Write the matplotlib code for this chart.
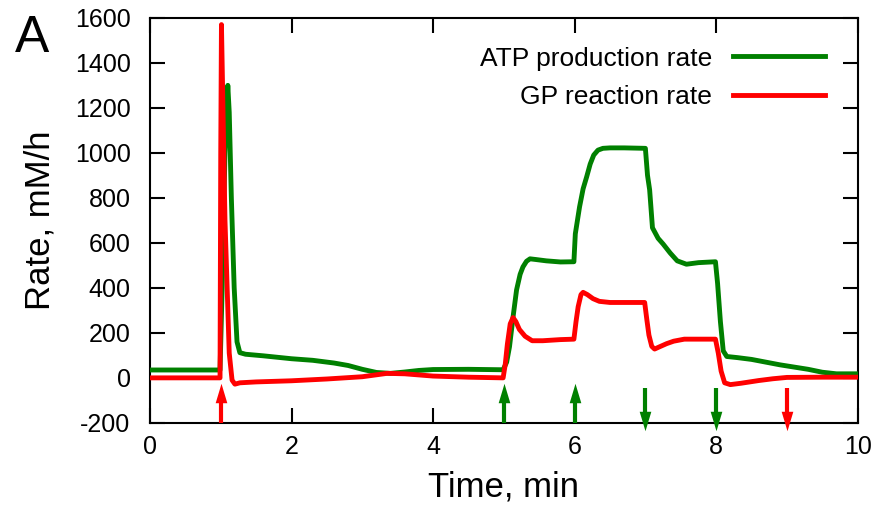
import matplotlib
matplotlib.use("Agg")
import matplotlib.pyplot as plt

plt.rcParams['font.family'] = ['Liberation Sans', 'DejaVu Sans']
plt.rcParams['axes.unicode_minus'] = False

# ATP production rate, mM/h
atp_t = [0, 0.99, 1.02, 1.06, 1.10, 1.12, 1.15, 1.19, 1.23, 1.27, 1.35, 1.6, 2.0, 2.3,
         2.6, 2.8, 3.0, 3.2, 3.4, 3.6, 3.8, 4.0, 4.5, 4.99, 5.04, 5.08, 5.13, 5.18, 5.23,
         5.27, 5.32, 5.37, 5.45, 5.6, 5.8, 5.99, 6.01, 6.07, 6.12, 6.17, 6.22, 6.27, 6.33,
         6.4, 6.5, 6.7, 7.0, 7.03, 7.06, 7.1, 7.18, 7.25, 7.35, 7.45, 7.58, 7.75, 7.99,
         8.02, 8.06, 8.1, 8.15, 8.3, 8.5, 8.7, 8.9, 9.1, 9.3, 9.5, 9.7, 10.0]
atp = [35, 35, 400, 1000, 1300, 1180, 800, 400, 160, 112, 105, 98, 85, 78,
       66, 55, 38, 24, 20, 26, 33, 37, 38, 36, 70, 138, 270, 391, 460,
       493, 518, 529, 526, 520, 515, 516, 640, 760, 840, 893, 950, 990, 1012,
       1020, 1022, 1022, 1020, 900, 836, 667, 620, 595, 555, 520, 505, 512, 516,
       420, 250, 120, 95, 90, 82, 70, 58, 48, 38, 25, 18, 18]

# glycogen phosphorylase reaction rate, mM/h
gp_t = [0, 0.99, 1.0, 1.01, 1.06, 1.12, 1.16, 1.2, 1.27, 1.5, 2.0, 2.5, 3.0, 3.35,
        3.6, 4.0, 4.5, 4.99, 5.02, 5.05, 5.09, 5.13, 5.17, 5.22, 5.3, 5.4, 5.55, 5.8,
        5.99, 6.02, 6.05, 6.09, 6.12, 6.18, 6.26, 6.35, 6.5, 6.99, 7.02, 7.05, 7.09,
        7.13, 7.2, 7.3, 7.4, 7.55, 7.8, 7.99, 8.03, 8.07, 8.12, 8.2, 8.35, 8.6, 8.8,
        9.0, 9.5, 10.0]
gp = [0, 0, 1000, 1570, 700, 110, -10, -28, -22, -18, -13, -5, 5, 20,
      18, 8, 3, 0, 60, 150, 240, 268, 250, 215, 185, 165, 165, 170,
      172, 250, 316, 370, 380, 370, 352, 340, 335, 335, 260, 190, 140,
      128, 138, 152, 163, 172, 172, 172, 110, 30, -22, -30, -24, -12, -4,
      2, 3, 3]

# stimulus switch-on / switch-off times, min
on_t = [1, 5, 6]
on_col = ['red', 'green', 'green']
off_t = [7, 8, 9]
off_col = ['green', 'green', 'red']

green = '#008000'
red = '#ff0000'
cmap = {'green': green, 'red': red}

# slim arrow heads (long triangle), centred on the marker position
head_up = [(-0.3, -0.5), (0.3, -0.5), (0, 0.5), (-0.3, -0.5)]
head_dn = [(-0.3, 0.5), (0.3, 0.5), (0, -0.5), (-0.3, 0.5)]

fig = plt.figure(figsize=(8.77, 5.24), dpi=100)
ax = fig.add_axes([0.171, 0.193, 0.807, 0.773])

ax.plot(atp_t, atp, color=green, lw=3.5, label='ATP production rate', zorder=3)
ax.plot(gp_t, gp, color=red, lw=3.5, label='GP reaction rate', zorder=4)

for t, c in zip(on_t, on_col):
    ax.vlines(t, -200, -90, color=cmap[c], lw=3, zorder=5)
    ax.plot(t, -66, marker=head_up, ms=14, mew=0, color=cmap[c], zorder=5)
for t, c in zip(off_t, off_col):
    ax.vlines(t, -45, -160, color=cmap[c], lw=3, zorder=5)
    ax.plot(t, -192, marker=head_dn, ms=14, mew=0, color=cmap[c], zorder=5,
            clip_on=False)

ax.set_xlim(0, 10)
ax.set_ylim(-200, 1600)
ax.set_xticks(range(0, 11, 2))
ax.set_yticks(range(-200, 1601, 200))
ax.tick_params(direction='in', length=11, width=1.5, top=True, right=True,
               labelsize=18)
ax.tick_params(axis='y', pad=14)
ax.tick_params(axis='x', pad=9)
for s in ax.spines.values():
    s.set_linewidth(1.5)

ax.set_xlabel('Time, min', fontsize=25, labelpad=8)
ax.set_ylabel('Rate, mM/h', fontsize=25, labelpad=13)

ax.legend(loc='upper right', bbox_to_anchor=(0.968, 0.955), frameon=False,
          markerfirst=False, fontsize=19, handlelength=3.45, handletextpad=0.8,
          labelspacing=0.55, borderaxespad=0)

fig.text(0.017, 0.9, 'A', fontsize=37)

fig.savefig('out.png', dpi=100)
